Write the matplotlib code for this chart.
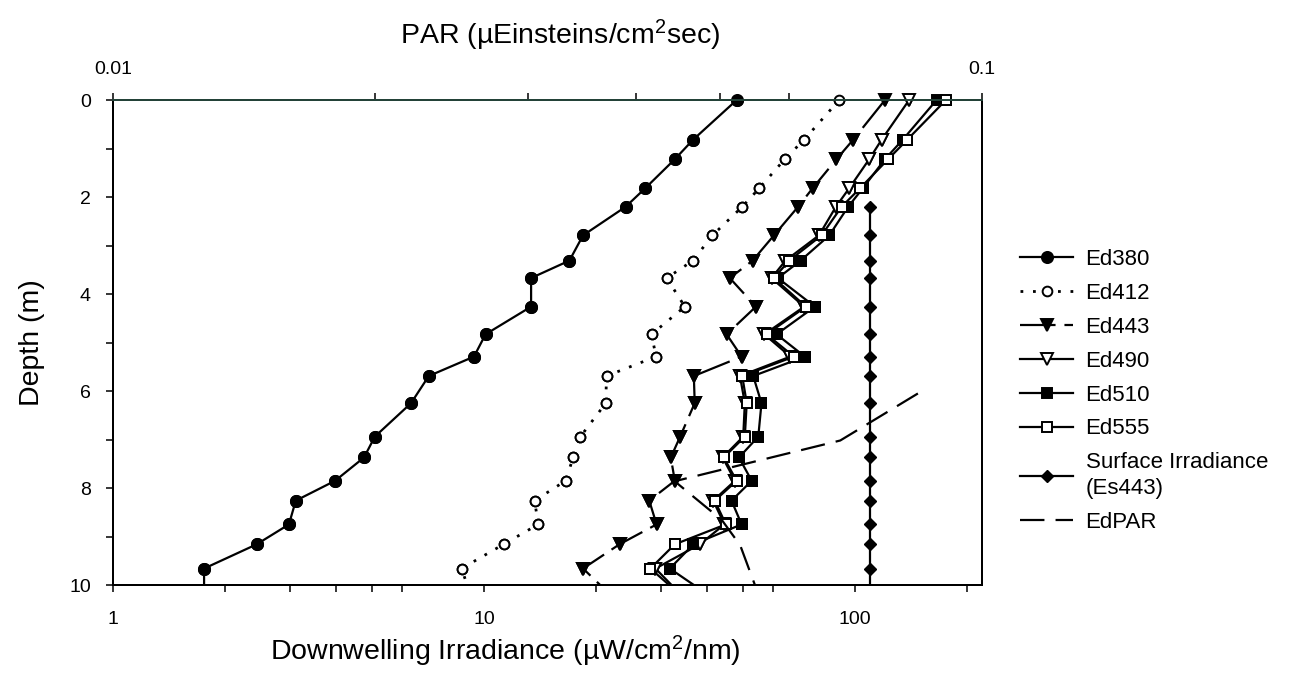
import matplotlib
matplotlib.use("Agg")
import matplotlib.pyplot as plt
import numpy as np
from matplotlib.ticker import FixedLocator, LogLocator, NullFormatter, MultipleLocator, FuncFormatter

plt.rcParams['font.family'] = ['Liberation Sans', 'DejaVu Sans']
plt.rcParams['mathtext.fontset'] = 'custom'
plt.rcParams['mathtext.rm'] = 'Liberation Sans'
plt.rcParams['mathtext.default'] = 'regular'

# depths (m) shared by the profiles; last value lies just below the plotted range
depth = [0.0, 0.82, 1.22, 1.82, 2.20, 2.79, 3.31, 3.67, 4.26, 4.83, 5.29,
         5.69, 6.25, 6.94, 7.37, 7.85, 8.26, 8.75, 9.16, 9.66, 10.3]

ed380 = [48.0, 36.6, 32.7, 27.2, 24.1, 18.5, 17.0, 13.4, 13.4, 10.1, 9.4,
         7.1, 6.36, 5.08, 4.75, 3.97, 3.11, 2.98, 2.44, 1.76, 1.76]
ed412 = [90.7, 72.9, 64.7, 55.2, 49.7, 41.3, 36.6, 31.1, 34.8, 28.3, 29.1,
         21.4, 21.3, 18.2, 17.4, 16.6, 13.7, 14.0, 11.3, 8.7, 9.3]
ed443 = [120.5, 98.9, 89.2, 76.9, 70.3, 60.5, 53.0, 46.0, 54.1, 45.1, 49.5,
         36.8, 37.0, 33.8, 31.9, 32.7, 27.9, 29.2, 23.2, 18.5, 22.6]
ed490 = [140, 118, 109.3, 96.5, 88.9, 80, 65, 59.6, 73, 57, 67,
         49, 50.5, 50, 44, 47.5, 41.5, 44.5, 38.2, 29, 35]
ed510 = [166, 134.5, 120.5, 105, 95.9, 85.3, 71.4, 62, 78, 61.5, 73.3,
         53.2, 56.0, 54.9, 48.7, 52.7, 46.5, 49.5, 36.7, 31.7, 42]
ed555 = [175.9, 138.3, 122.9, 103.2, 92.1, 81.3, 66.5, 60.5, 73.8, 57.8, 68.5,
         49.7, 51.1, 50.5, 44.3, 48.0, 41.9, 44.9, 32.7, 28.1, 35]

# surface irradiance (starts at 2.2 m)
es_depth = [2.20, 2.79, 3.31, 3.67, 4.26, 4.83, 5.29, 5.69, 6.25, 6.94,
            7.37, 7.85, 8.26, 8.75, 9.16, 9.66, 10.3]
es443 = [109.5] * len(es_depth)

# PAR on the top axis
par_depth = [6.05, 7.02, 7.86, 8.66, 9.18, 10.0]
edpar = [0.0844, 0.0687, 0.0443, 0.0502, 0.0527, 0.0548]

fig = plt.figure(figsize=(12.93, 6.84), dpi=100)
ax = fig.add_axes([0.0874, 0.1447, 0.672, 0.709])

series = [
    ("Ed380", ed380, dict(marker='o', ms=8, mfc='black', ls='-')),
    ("Ed412", ed412, dict(marker='o', ms=7, mfc='white', ls=(0, (1, 3.5)), lw=2)),
    ("Ed443", ed443, dict(marker='v', ms=8, mfc='black', ls=(0, (16, 4)))),
    ("Ed490", ed490, dict(marker='v', ms=8, mfc='white', ls='-')),
    ("Ed510", ed510, dict(marker='s', ms=7, mfc='black', ls='-')),
    ("Ed555", ed555, dict(marker='s', ms=7, mfc='white', ls='-')),
]

d = np.array(depth)
inside = d <= 10
for name, vals, st in series:
    kw = dict(color='black', mec='black', lw=1.6, mew=1.4)
    kw.update(st)
    ax.plot(vals, depth, label=name, zorder=3, **kw)
    v = np.array(vals)
    ax.plot(v[inside], d[inside], ls='none', marker=kw['marker'], ms=kw['ms'],
            mfc=kw['mfc'], mec='black', mew=1.4, clip_on=False, zorder=4)

ax.plot(es443, es_depth, color='black', lw=1.6, marker='D', ms=6.2,
        mfc='black', mec='black', label="Surface Irradiance\n(Es443)", zorder=3)

ax.set_xscale('log')
ax.set_xlim(1, 220)
ax.set_ylim(10, 0)
ax.xaxis.set_major_locator(FixedLocator([1, 10, 100]))
ax.xaxis.set_major_formatter(FuncFormatter(lambda v, _: f"{v:g}"))
ax.xaxis.set_minor_locator(LogLocator(base=10, subs=(2, 3, 4, 5, 6)))
ax.xaxis.set_minor_formatter(NullFormatter())
ax.yaxis.set_major_locator(MultipleLocator(2))
ax.yaxis.set_minor_locator(MultipleLocator(1))
ax.tick_params(which='both', direction='out', length=5, width=1.1, labelsize=14)
ax.tick_params(axis='x', which='both', pad=14)
ax.tick_params(axis='y', which='both', pad=11)
ax.tick_params(right=False, top=False)
for s in ax.spines.values():
    s.set_linewidth(1.4)

ax.set_xlabel("Downwelling Irradiance (µW/cm$^{2}$/nm)", fontsize=20.5, va='top')
ax.xaxis.set_label_coords(0.451, -0.100)
ax.set_ylabel("Depth (m)", fontsize=20.5)
ax.yaxis.set_label_coords(-0.078, 0.5)

ax2 = ax.twiny()
ax2.set_xscale('log')
ax2.set_xlim(0.01, 0.1)
ax2.plot(edpar, par_depth, color='black', lw=1.6, ls=(0, (11, 5)), label="EdPAR", zorder=3)
ax2.xaxis.set_major_locator(FixedLocator([0.01, 0.1]))
ax2.xaxis.set_major_formatter(FuncFormatter(lambda v, _: f"{v:g}"))
ax2.xaxis.set_minor_locator(LogLocator(base=10, subs=(2, 3, 4, 5, 6)))
ax2.xaxis.set_minor_formatter(NullFormatter())
ax2.tick_params(which='both', direction='out', length=5, width=1.1, labelsize=14, pad=11)
ax2.spines['top'].set_color('#24443a')
for s in ax2.spines.values():
    s.set_linewidth(1.4)
ax2.set_xlabel("PAR (µEinsteins/cm$^{2}$sec)", fontsize=20.5)
ax2.xaxis.set_label_coords(0.514, 1.115)

h1, l1 = ax.get_legend_handles_labels()
h2, l2 = ax2.get_legend_handles_labels()
leg = fig.legend(h1 + h2, l1 + l2, loc='upper left', bbox_to_anchor=(1020 / 1293, 1 - 249 / 684),
                 frameon=False, fontsize=16, handlelength=2.4, handletextpad=0.55,
                 labelspacing=0.58, borderpad=0, borderaxespad=0)
for t in leg.get_texts():
    t.set_linespacing(1.3)

fig.savefig("out.png", dpi=100)
